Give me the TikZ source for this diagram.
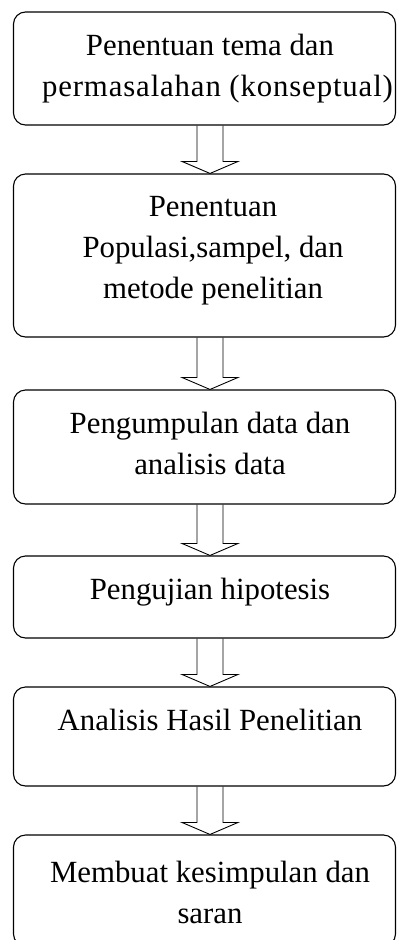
\documentclass[tikz,border=0pt]{standalone}
\usepackage{fontspec}
\setmainfont{Liberation Serif}
\usetikzlibrary{calc}

\tikzset{
  stepbox/.style={draw, line width=1.1pt, rounded corners=12pt, minimum width=382pt, inner sep=0pt},
  steptext/.style={font=\fontsize{30.8}{41}\selectfont, align=center, inner sep=0pt, anchor=north},
  blockline/.style={line width=0.9pt, line join=miter}
}

% hollow block arrow from the bottom of #1 to the top of #2
\newcommand{\blockarrow}[2]{%
  \draw[blockline] ($(#1.south)+(-7.5,0)$) -- ($(#2.north)+(-7.5,-12)$)
    -- ($(#2.north)+(-22.5,-12)$) -- ($(#2.north)+(5.5,0)$)
    -- ($(#2.north)+(33.5,-12)$) -- ($(#2.north)+(18.5,-12)$)
    -- ($(#1.south)+(18.5,0)$);}

\begin{document}
\begin{tikzpicture}[x=1pt, y=-1pt]
    \useasboundingbox (0,0) rectangle (397,940);

    % Boxes
    \node[stepbox, minimum height=113pt] (b1) at (204.5,68.5) {};
    \node[stepbox, minimum height=163pt] (b2) at (204.5,255.5) {};
    \node[stepbox, minimum height=114pt] (b3) at (204.5,447) {};
    \node[stepbox, minimum height=82pt] (b4) at (204.5,597) {};
    \node[stepbox, minimum height=99pt] (b5) at (204.5,736.5) {};
    \node[stepbox, minimum height=111pt] (b6) at (204.5,890.5) {};

    % Texts
    \node[steptext] (t1) at ($(b1.north)+(5.5,22)$) {Penentuan tema dan\\
      \hspace*{15pt}{\addfontfeature{LetterSpace=2.8}permasalahan (konseptual)}};
    \node[steptext] (t2) at ($(b2.north)+(8.5,23)$) {Penentuan\\Populasi,sampel, dan\\metode penelitian};
    \node[steptext] (t3) at ($(b3.north)+(5.5,22)$) {Pengumpulan data dan\\analisis data};
    \node[steptext] (t4) at ($(b4.north)+(5.5,22)$) {Pengujian hipotesis};
    \node[steptext] (t5) at ($(b5.north)+(5.5,22)$) {Analisis Hasil Penelitian};
    \node[steptext] (t6) at ($(b6.north)+(5.5,26)$) {Membuat kesimpulan dan\\saran};

    % Arrows
    \blockarrow{b1}{b2}
    \blockarrow{b2}{b3}
    \blockarrow{b3}{b4}
    \blockarrow{b4}{b5}
    \blockarrow{b5}{b6}
  \end{tikzpicture}
\end{document}
